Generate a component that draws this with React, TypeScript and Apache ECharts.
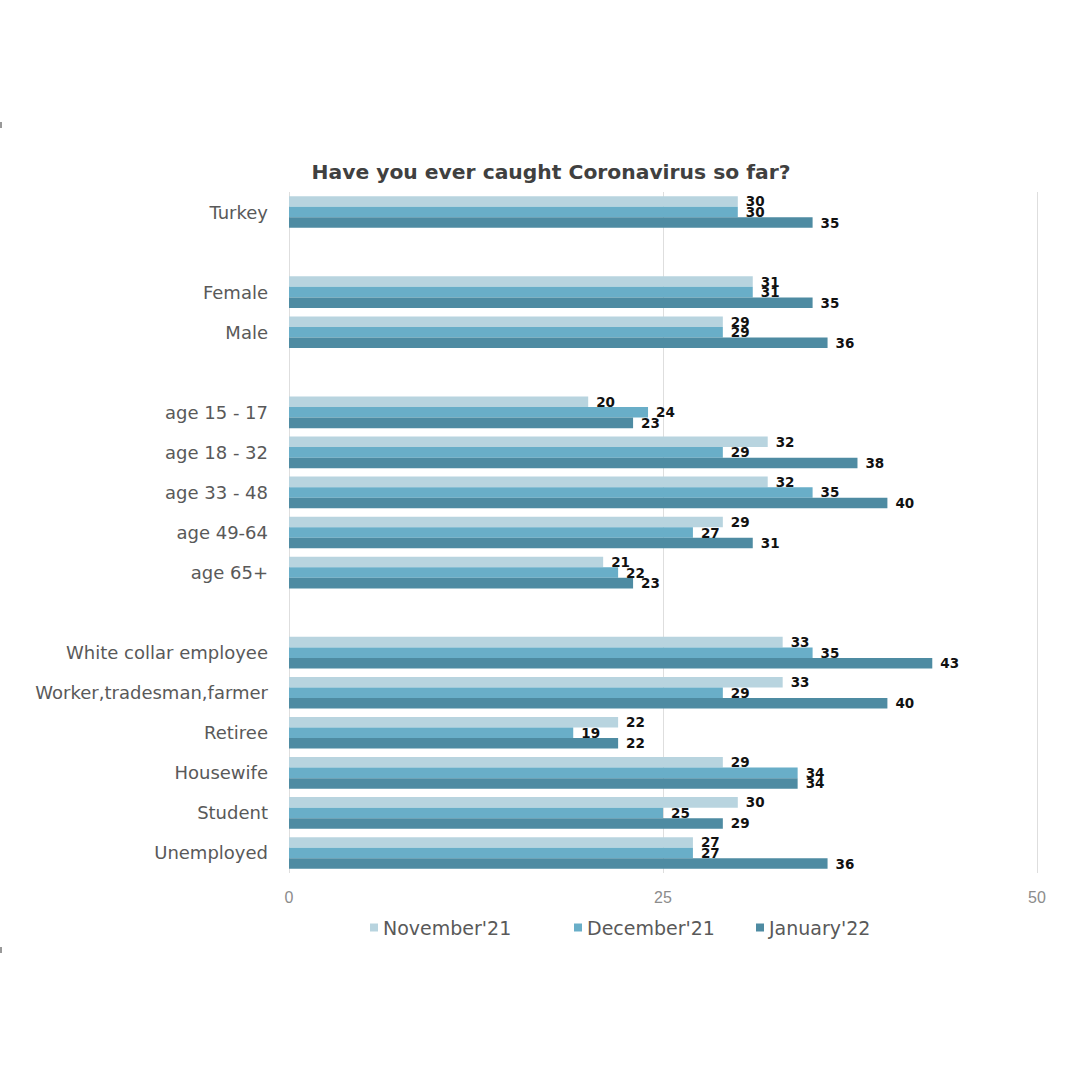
import React, { useEffect, useRef } from "react";
import * as echarts from "echarts";

const categories = [
  "Turkey",
  "",
  "Female",
  "Male",
  " ",
  "age 15 - 17",
  "age 18 - 32",
  "age 33 - 48",
  "age 49-64",
  "age 65+",
  "  ",
  "White collar employee",
  "Worker,tradesman,farmer",
  "Retiree",
  "Housewife",
  "Student",
  "Unemployed",
];

const seriesNames = ["November'21", "December'21", "January'22"];

const november = [30, null, 31, 29, null, 20, 32, 32, 29, 21, null, 33, 33, 22, 29, 30, 27];
const december = [30, null, 31, 29, null, 24, 29, 35, 27, 22, null, 35, 29, 19, 34, 25, 27];
const january = [35, null, 35, 36, null, 23, 38, 40, 31, 23, null, 43, 40, 22, 34, 29, 36];

const xTicks = { min: 0, max: 50, interval: 25 };

const colors = ["#b8d4df", "#69aec8", "#4e8ba2"];
const legendLefts = [365, 569, 751];

export default function App() {
  const ref = useRef<HTMLDivElement>(null);

  useEffect(() => {
    if (!ref.current) return;
    const chart = echarts.init(ref.current, undefined, { renderer: "svg" });
    const allData = [november, december, january];
    const option = {
      animation: false,
      backgroundColor: "#ffffff",
      title: {
        text: "Have you ever caught Coronavirus so far?",
        left: 546,
        textAlign: "center",
        top: 157,
        textStyle: {
          fontFamily: "DejaVu Sans",
          fontWeight: "bold",
          fontSize: 20.3,
          color: "#404040",
        },
      },
      legend: seriesNames.map((name, i) => ({
        data: [name],
        left: legendLefts[i],
        top: 913,
        icon: "rect",
        itemWidth: 8,
        itemHeight: 8,
        itemGap: 4,
        textStyle: {
          fontFamily: "DejaVu Sans",
          fontSize: 19,
          color: "#595959",
          padding: [0, 0, 0, 0],
        },
      })),
      grid: {
        left: 289,
        right: 43,
        top: 192,
        bottom: 207,
        containLabel: false,
      },
      xAxis: {
        type: "value",
        min: xTicks.min,
        max: xTicks.max,
        interval: xTicks.interval,
        axisLine: { show: false },
        axisTick: { show: false },
        axisLabel: {
          fontFamily: "Liberation Sans",
          fontSize: 16,
          color: "#8c8c8c",
          margin: 16,
        },
        splitLine: { show: true, lineStyle: { color: "#dedede", width: 1 } },
      },
      yAxis: {
        type: "category",
        data: categories,
        inverse: true,
        axisLine: { show: false },
        axisTick: { show: false },
        axisLabel: {
          fontFamily: "DejaVu Sans",
          fontSize: 18,
          color: "#595959",
          margin: 21,
        },
      },
      series: seriesNames.map((name, i) => ({
        name,
        type: "bar",
        data: allData[i],
        barGap: "0%",
        barCategoryGap: "21%",
        itemStyle: { color: colors[i] },
        label: {
          show: true,
          position: "right",
          distance: 8,
          fontFamily: "DejaVu Sans",
          fontWeight: "bold",
          fontSize: 13.5,
          color: "#111111",
        },
      })),
      graphic: [
        { type: "rect", left: 0, top: 122, shape: { width: 2, height: 6 }, style: { fill: "#999999" } },
        { type: "rect", left: 0, top: 947, shape: { width: 2, height: 6 }, style: { fill: "#999999" } },
      ],
    };
    chart.setOption(option as any);
    return () => chart.dispose();
  }, []);

  return (
    <div
      ref={ref}
      style={{ position: "fixed", left: 0, top: 0, width: 1080, height: 1080 }}
    />
  );
}
